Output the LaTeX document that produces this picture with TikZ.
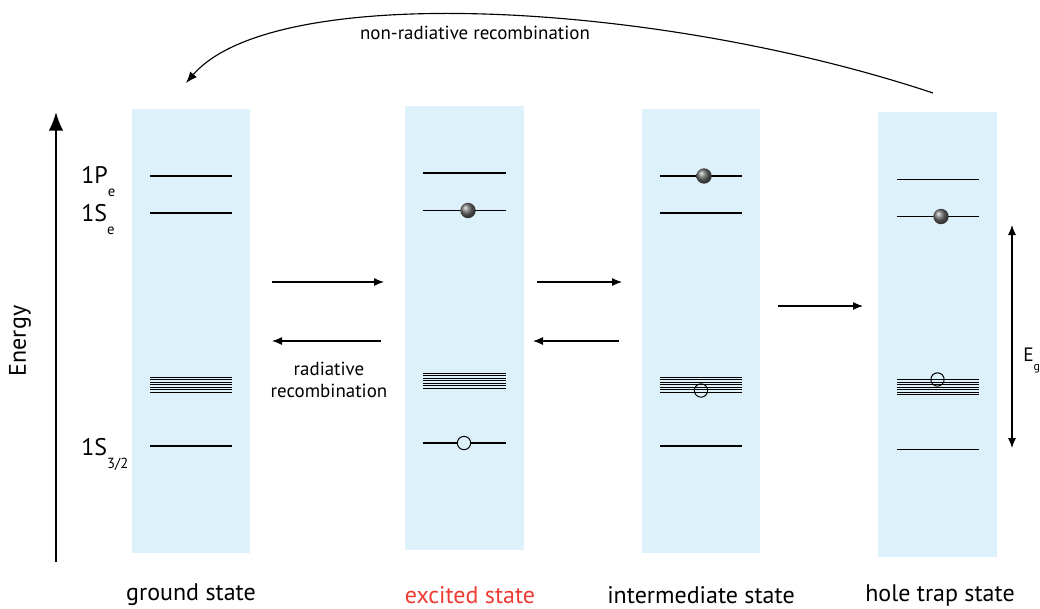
\documentclass[tikz,border=0pt]{standalone}
\usepackage{fontspec}
\setmainfont{PT Sans}
\usetikzlibrary{arrows.meta,shadings}
\definecolor{boxblue}{HTML}{DCF1F9}
\definecolor{exred}{HTML}{EE3B33}
\tikzset{
  column/.style={fill=boxblue, draw=none, minimum width=89pt, minimum height=333.5pt, inner sep=0pt},
  level/.style={line width=1pt},
  bandline/.style={line width=0.75pt},
  electron/.style={circle, ball color=gray!85!black, minimum size=11.5pt, inner sep=0pt},
  hole/.style={circle, draw, line width=0.75pt, minimum size=10pt, inner sep=0pt},
  trans/.style={line width=0.85pt, -{Latex[length=7.5pt,width=6pt]}},
  biglabel/.style={font=\fontsize{18}{21}\selectfont, inner sep=0pt},
  smalllabel/.style={font=\fontsize{14.2}{17}\selectfont, inner sep=0pt, align=center},
}
\newcommand{\bandat}[3]{% x1, x2, ytop
  \foreach \k in {0,...,6} {\draw[bandline] (#1,#3+2.5*\k) -- (#2,#3+2.5*\k);}}
\begin{document}
\begin{tikzpicture}[x=0.75pt,y=-0.75pt]
\useasboundingbox (0,0) rectangle (1040,608);

% columns
\node[column] (g) at (191,331) {};
\node[column] (ex) at (464.5,328) {};
\node[column] (im) at (701,331) {};
\node[column] (tr) at (937.5,334.5) {};

% ground state levels
\draw[level] (150,176) -- (232,176);
\draw[level] (150,213) -- (232,213);
\bandat{150}{232}{377}
\draw[level] (150,446) -- (232,446);

% excited state levels
\draw[level] (423,173) -- (506,173);
\draw[level] (423,210.5) -- (506,210.5);
\bandat{423}{506}{373}
\draw[level] (423,443) -- (506,443);

% intermediate state levels
\draw[level] (660,176) -- (742,176);
\draw[level] (660,213) -- (742,213);
\bandat{660}{742}{377}
\draw[level] (660,446) -- (742,446);

% hole trap state levels
\draw[level] (897,179.5) -- (979,179.5);
\draw[level] (897,216.5) -- (979,216.5);
\bandat{897}{979}{379.5}
\draw[level] (897,449.5) -- (979,449.5);

% carriers
\node[electron] (e1) at (468,210.5) {};
\node[hole,fill=boxblue] (h1) at (464,443) {};
\node[electron] (e2) at (704,176) {};
\node[hole] (h2) at (701,390.5) {};
\node[electron] (e3) at (941,216.5) {};
\node[hole] (h3) at (937.5,379.5) {};

% level labels
\node[biglabel, anchor=base west] (l1) at (81,183) {1P\raisebox{-1.1ex}{\fontsize{11}{13}\selectfont e}};
\node[biglabel, anchor=base west] (l2) at (81,221) {1S\raisebox{-1.1ex}{\fontsize{11}{13}\selectfont e}};
\node[biglabel, anchor=base west] (l3) at (81,455) {1S\raisebox{-1.1ex}{\fontsize{11}{13}\selectfont 3/2}};

% energy axis
\coordinate (ea) at (56,562);
\coordinate (eb) at (56,112);
\draw[line width=1.6pt, -{Latex[length=14pt,width=11pt]}] (ea) -- (eb);
\node[biglabel, rotate=90] (en) at (20,341) {Energy};

% transition arrows
\coordinate (a1s) at (272,282); \coordinate (a1e) at (384,282);
\coordinate (a2s) at (381,341); \coordinate (a2e) at (272,341);
\coordinate (a3s) at (537,282); \coordinate (a3e) at (622,282);
\coordinate (a4s) at (619,341); \coordinate (a4e) at (533,341);
\coordinate (a5s) at (778,306); \coordinate (a5e) at (863,306);
\draw[trans] (a1s) -- (a1e);
\draw[trans] (a2s) -- (a2e);
\draw[trans] (a3s) -- (a3e);
\draw[trans] (a4s) -- (a4e);
\draw[trans] (a5s) -- (a5e);
\node[smalllabel] (rr) at (329,380) {radiative\\recombination};

% band gap
\coordinate (gt) at (1012,225);
\coordinate (gb) at (1012,448);
\draw[line width=0.85pt, {Latex[length=7.5pt,width=6pt]}-{Latex[length=7.5pt,width=6pt]}] (gt) -- (gb);
\node[inner sep=0pt, anchor=base west, font=\fontsize{14.5}{17}\selectfont] (eg) at (1023,361) {E\raisebox{-1ex}{\fontsize{9}{11}\selectfont g}};

% non-radiative recombination
\coordinate (nrs) at (933,93);
\coordinate (nre) at (186,83);
\draw[line width=0.85pt, -{Latex[length=8.5pt,width=6.5pt]}] (nrs) .. controls (660,2) and (275,-20) .. (nre);
\node[smalllabel] (nr) at (475,33) {non-radiative recombination};

% state names
\node[biglabel] (sg) at (191,595) {ground state};
\node[biglabel, text=exred] (sx) at (470,595) {excited state};
\node[biglabel] (si) at (701,595) {intermediate state};
\node[biglabel] (st) at (940,595) {hole trap state};
\end{tikzpicture}
\end{document}
